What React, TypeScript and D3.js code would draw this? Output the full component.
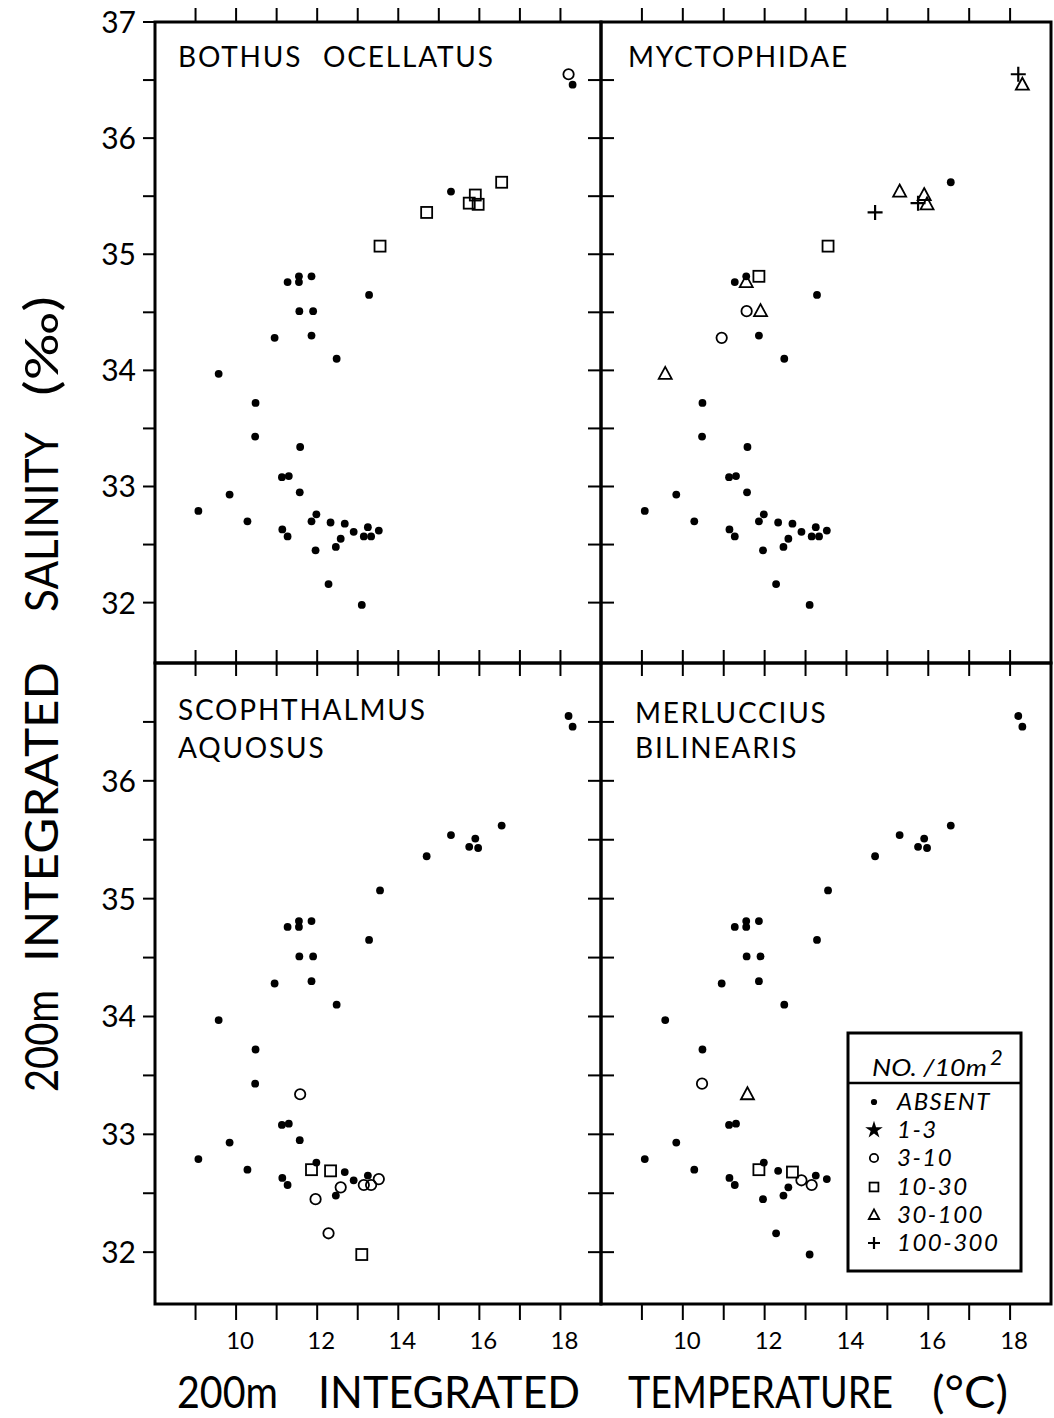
import React from "react";
import * as d3 from "d3";

const width = 1054;
const height = 1418;

// stations (same in every panel)
const temperature = [
  18.2, 18.3, 16.55, 15.3, 15.9, 15.75, 15.97, 14.7, 13.55, 13.28,
  11.27, 11.55, 11.55, 11.86, 11.56, 11.9, 10.95, 11.86, 12.48, 9.57,
  10.48, 10.47, 11.58, 11.13, 11.3, 9.84, 11.57, 9.07, 10.28, 11.98,
  11.86, 12.33, 12.68, 11.14, 11.27, 12.9, 13.25, 13.15, 13.33, 13.52,
  12.58, 12.46, 11.96, 12.28, 13.1,
];
const salinity = [
  36.55, 36.46, 35.62, 35.54, 35.51, 35.44, 35.43, 35.36, 35.07, 34.65,
  34.76, 34.81, 34.76, 34.81, 34.51, 34.51, 34.28, 34.3, 34.1, 33.97,
  33.72, 33.43, 33.34, 33.08, 33.09, 32.93, 32.95, 32.79, 32.7, 32.76,
  32.7, 32.69, 32.68, 32.63, 32.57, 32.61, 32.65, 32.57, 32.57, 32.62,
  32.55, 32.48, 32.45, 32.16, 31.98,
];

// catch class per station: index into catchLabels, -1 = not plotted
const catchLabels = ["ABSENT", "1-3", "3-10", "10-30", "30-100", "100-300"];
const bothusCatch = [
  2, 0, 3, 0, 3, 3, 3, 3, 3, 0,
  0, 0, 0, 0, 0, 0, 0, 0, 0, 0,
  0, 0, 0, 0, 0, 0, 0, 0, 0, 0,
  0, 0, 0, 0, 0, 0, 0, 0, 0, 0,
  0, 0, 0, 0, 0,
];
const myctophidCatch = [
  5, 4, 0, 4, 4, 5, 4, 5, 3, 0,
  0, 0, 4, 3, 2, 4, 2, 0, 0, 4,
  0, 0, 0, 0, 0, 0, 0, 0, 0, 0,
  0, 0, 0, 0, 0, 0, 0, 0, 0, 0,
  0, 0, 0, 0, 0,
];
const scophthalmusCatch = [
  0, 0, 0, 0, 0, 0, 0, 0, 0, 0,
  0, 0, 0, 0, 0, 0, 0, 0, 0, 0,
  0, 0, 2, 0, 0, 0, 0, 0, 0, 0,
  3, 3, 0, 0, 0, 0, 0, 2, 2, 2,
  2, 0, 2, 2, 3,
];
const merlucciusCatch = [
  0, 0, 0, 0, 0, 0, 0, 0, 0, 0,
  0, 0, 0, 0, 0, 0, 0, 0, 0, 0,
  0, 2, 4, 0, 0, 0, -1, 0, 0, 0,
  3, 0, 3, 0, 0, 2, 0, 2, -1, 0,
  0, 0, 0, 0, 0,
];

const xTicks = d3.range(9, 19);
const xLabels = [10, 12, 14, 16, 18];
const yTicksTop = d3.range(32, 37.01, 0.5);
const yTicksBottom = d3.range(32, 36.51, 0.5);
const yLabelsTop = [37, 36, 35, 34, 33, 32];
const yLabelsBottom = [36, 35, 34, 33, 32];

const font = "Lato, 'Liberation Sans', sans-serif";

function Marker({ code, x, y, small }: { code: number; x: number; y: number; small?: boolean }) {
  const s = small ? 0.8 : 1;
  if (code === 0) return <circle cx={x} cy={y} r={3.9 * s} fill="#000" />;
  if (code === 1)
    return (
      <path
        transform={`translate(${x},${y})`}
        d={d3.symbol(d3.symbolStar, 120 * s)() as string}
        fill="#000"
      />
    );
  if (code === 2)
    return <circle cx={x} cy={y} r={5.2 * s} fill="none" stroke="#000" strokeWidth={1.8} />;
  if (code === 3) {
    const h = 5.5 * s;
    return (
      <rect x={x - h} y={y - h} width={2 * h} height={2 * h} fill="none" stroke="#000" strokeWidth={1.8} />
    );
  }
  if (code === 4) {
    const w = 6.5 * s;
    return (
      <path
        d={`M${x},${y - 7 * s}L${x + w},${y + 5 * s}L${x - w},${y + 5 * s}Z`}
        fill="none"
        stroke="#000"
        strokeWidth={1.8}
      />
    );
  }
  if (code === 5) {
    const a = 7.5 * s;
    return (
      <path d={`M${x - a},${y}H${x + a}M${x},${y - a}V${y + a}`} stroke="#000" strokeWidth={2.2} />
    );
  }
  return null;
}

type PanelProps = {
  x0: number;
  x1: number;
  y0: number;
  y1: number;
  yDomain: [number, number];
  top: boolean;
  left: boolean;
  title: string[];
  titleX: number;
  titleY: number[];
  codes: number[];
};

function Panel({ x0, x1, y0, y1, yDomain, top, left, title, titleX, titleY, codes }: PanelProps) {
  const x = d3.scaleLinear().domain([8, 19]).range([x0, x1]);
  const y = d3.scaleLinear().domain(yDomain).range([y1, y0]);
  const yTicks = top ? yTicksTop : yTicksBottom;
  const yLabels = top ? yLabelsTop : yLabelsBottom;

  return (
    <g>
      {/* x ticks */}
      {xTicks.map((t) =>
        top ? (
          <line key={"xt" + t} x1={x(t)} x2={x(t)} y1={y0} y2={y0 - 14} stroke="#000" strokeWidth={2} />
        ) : (
          <g key={"xt" + t}>
            <line x1={x(t)} x2={x(t)} y1={y0 - 13} y2={y0 + 13} stroke="#000" strokeWidth={2} />
            <line x1={x(t)} x2={x(t)} y1={y1} y2={y1 + 16} stroke="#000" strokeWidth={2} />
          </g>
        )
      )}
      {!top &&
        xLabels.map((t) => (
          <text key={"xl" + t} x={x(t) + 4} y={1349} fontSize={24} textAnchor="middle" fontFamily={font}>
            {t}
          </text>
        ))}
      {/* y ticks */}
      {left &&
        yTicks.map((t) => (
          <g key={"yt" + t}>
            <line x1={x0 - 12} x2={x0} y1={y(t)} y2={y(t)} stroke="#000" strokeWidth={2} />
            <line x1={x1 - 13} x2={x1 + 13} y1={y(t)} y2={y(t)} stroke="#000" strokeWidth={2} />
          </g>
        ))}
      {left &&
        yLabels.map((t) => (
          <text key={"yl" + t} x={136} y={y(t) + 11} fontSize={30} textAnchor="end" fontFamily={font}>
            {t}
          </text>
        ))}
      {/* frame */}
      <rect x={x0} y={y0} width={x1 - x0} height={y1 - y0} fill="none" stroke="#000" strokeWidth={3} />
      {/* title */}
      {title.map((line, i) => (
        <text
          key={line}
          x={titleX}
          y={titleY[i]}
          fontSize={28}
          letterSpacing={1.8}
          wordSpacing={12}
          fontFamily={font}
        >
          {line}
        </text>
      ))}
      {/* stations */}
      {codes.map((c, i) => (
        <Marker key={i} code={c} x={x(temperature[i])} y={y(salinity[i])} />
      ))}
    </g>
  );
}

function Legend() {
  const rowY = [1102, 1130, 1158, 1187, 1215, 1243];
  return (
    <g fontFamily={font} fontStyle="italic">
      <rect x={848} y={1033} width={173} height={238} fill="#fff" stroke="#000" strokeWidth={3} />
      <line x1={848} x2={1021} y1={1083} y2={1083} stroke="#000" strokeWidth={2.5} />
      <text x={872} y={1076} fontSize={24} textLength={115} lengthAdjust="spacingAndGlyphs">
        NO. /10m
      </text>
      <text x={990} y={1065} fontSize={22}>
        2
      </text>
      {catchLabels.map((label, i) => (
        <g key={label}>
          <Marker code={i} x={874} y={rowY[i]} small />
          <text x={897} y={rowY[i] + 8} fontSize={24} letterSpacing={1.5}>
            {label}
          </text>
        </g>
      ))}
    </g>
  );
}

export default function App() {
  const xWords = [
    { t: "200m", x: 177, w: 101 },
    { t: "INTEGRATED", x: 318, w: 262 },
    { t: "TEMPERATURE", x: 628, w: 265 },
    { t: "(°C)", x: 932, w: 76 },
  ];
  const yWords = [
    { t: "200m", y: 1092, w: 102 },
    { t: "INTEGRATED", y: 962, w: 300 },
    { t: "SALINITY", y: 612, w: 180 },
    { t: "(‰)", y: 396, w: 100 },
  ];
  return (
    <svg
      width={width}
      height={height}
      style={{ position: "absolute", left: 0, top: 0, background: "#fff" }}
    >
      <rect width={width} height={height} fill="#fff" />
      <Panel
        x0={155} x1={601} y0={22} y1={663} yDomain={[31.48, 37]}
        top left title={["BOTHUS OCELLATUS"]} titleX={178} titleY={[67]} codes={bothusCatch}
      />
      <Panel
        x0={601} x1={1051} y0={22} y1={663} yDomain={[31.48, 37]}
        top left={false} title={["MYCTOPHIDAE"]} titleX={628} titleY={[67]} codes={myctophidCatch}
      />
      <Panel
        x0={155} x1={601} y0={663} y1={1304} yDomain={[31.56, 37]}
        top={false} left title={["SCOPHTHALMUS", "AQUOSUS"]} titleX={178} titleY={[720, 758]}
        codes={scophthalmusCatch}
      />
      <Panel
        x0={601} x1={1051} y0={663} y1={1304} yDomain={[31.56, 37]}
        top={false} left={false} title={["MERLUCCIUS", "BILINEARIS"]} titleX={635} titleY={[723, 758]}
        codes={merlucciusCatch}
      />
      <Legend />
      {xWords.map((d) => (
        <text
          key={d.t}
          x={d.x}
          y={1408}
          fontSize={44}
          fontFamily={font}
          textLength={d.w}
          lengthAdjust="spacingAndGlyphs"
        >
          {d.t}
        </text>
      ))}
      {yWords.map((d) => (
        <text
          key={d.t}
          transform={`translate(58,${d.y}) rotate(-90)`}
          fontSize={46}
          fontFamily={font}
          textLength={d.w}
          lengthAdjust="spacingAndGlyphs"
        >
          {d.t}
        </text>
      ))}
    </svg>
  );
}
